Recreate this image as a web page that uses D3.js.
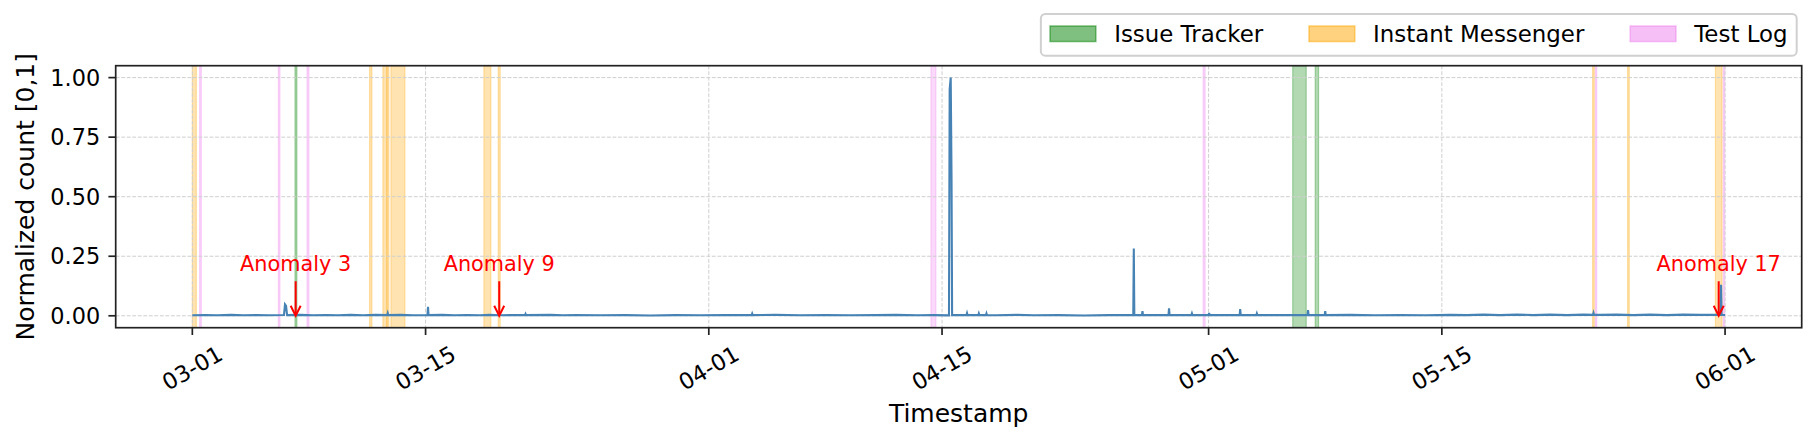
<!DOCTYPE html>
<html><head><meta charset="utf-8">
<script src="https://cdn.jsdelivr.net/npm/d3@7"></script>
<style>
body{margin:0;background:#fff}
svg text{font-family:"DejaVu Sans",sans-serif}
</style>
</head><body>
<svg id="chart" width="1817" height="443"></svg>
<script>
// ---------------- DATA ----------------
const YEAR = "2023";
const seriesTime = [
"03-01 00:00","03-01 18:00","03-02 12:00","03-03 08:00","03-04 02:00","03-04 20:00","03-05 14:00",
"03-06 12:00","03-06 13:30","03-06 15:00","03-06 16:30","03-07 12:00","03-08 06:00","03-09 00:00",
"03-09 18:00","03-10 12:00","03-11 06:00","03-12 00:00","03-12 16:45","03-12 17:30","03-12 18:15",
"03-13 12:00","03-14 06:00","03-15 02:45","03-15 03:30","03-15 04:15","03-16 00:00","03-16 18:00",
"03-17 12:00","03-18 06:00","03-18 20:00","03-19 12:00","03-20 06:00","03-20 23:15","03-21 00:00",
"03-21 00:45","03-22 12:00","03-23 06:00","03-24 00:00","03-25 12:00","03-27 00:00","03-28 12:00",
"03-30 00:00","03-31 12:00","04-02 00:00","04-03 13:45","04-03 14:30","04-03 15:15","04-05 00:00",
"04-06 12:00","04-08 00:00","04-09 12:00","04-11 00:00","04-12 06:00","04-13 12:00","04-14 12:00",
"04-15 10:00","04-15 11:00","04-15 12:30","04-15 13:40","04-15 14:30","04-16 00:00","04-16 11:15",
"04-16 12:00","04-16 12:45","04-17 04:15","04-17 05:00","04-17 05:45","04-17 15:15","04-17 16:00",
"04-17 16:45","04-18 06:00","04-19 12:00","04-20 12:00","04-22 00:00","04-23 12:00","04-25 00:00",
"04-26 11:30","04-26 12:15","04-26 13:00","04-27 00:00","04-27 00:45","04-27 01:30","04-28 14:15",
"04-28 15:00","04-28 15:45","04-29 23:15","04-30 00:00","04-30 00:45","05-01 00:00","05-01 00:45",
"05-01 01:30","05-02 20:45","05-02 21:30","05-02 22:15","05-03 20:45","05-03 21:30","05-03 22:15",
"05-05 12:00","05-06 22:30","05-06 23:15","05-07 00:00","05-07 23:15","05-08 00:00","05-08 00:45",
"05-09 12:00","05-11 00:00","05-12 12:00","05-14 00:00","05-15 12:00","05-16 12:00","05-17 12:00",
"05-18 12:00","05-19 12:00","05-20 12:00","05-21 12:00","05-22 12:00","05-23 12:00","05-24 01:45",
"05-24 02:30","05-24 03:15","05-24 12:00","05-25 12:00","05-26 12:00","05-27 12:00","05-28 12:00",
"05-29 12:00","05-30 12:00","05-31 17:30","05-31 18:15","05-31 19:00","06-01 00:00"
];
const seriesValue = [
0.002,0.003,0.002,0.004,0.002,0.003,0.002,
0.003,0.048,0.042,0.003,0.004,0.002,0.003,
0.002,0.004,0.002,0.004,0.003,0.011,0.003,
0.004,0.002,0.003,0.038,0.003,0.004,0.002,
0.003,0.002,0.004,0.002,0.003,0.003,0.008,
0.003,0.004,0.002,0.003,0.002,0.003,0.001,
0.003,0.002,0.003,0.003,0.009,0.003,0.004,
0.002,0.003,0.002,0.003,0.004,0.002,0.003,
0.002,0.951,1.000,0.584,0.003,0.003,0.003,
0.011,0.003,0.003,0.010,0.003,0.003,0.010,
0.003,0.002,0.004,0.002,0.003,0.001,0.003,
0.003,0.283,0.003,0.003,0.020,0.003,0.003,
0.031,0.003,0.003,0.010,0.003,0.003,0.012,
0.003,0.003,0.028,0.003,0.003,0.010,0.003,
0.003,0.003,0.024,0.003,0.003,0.020,0.003,
0.004,0.002,0.003,0.002,0.004,0.003,0.005,
0.003,0.005,0.003,0.005,0.003,0.005,0.004,
0.012,0.004,0.004,0.005,0.003,0.005,0.003,
0.005,0.004,0.004,0.130,0.004,0.003
];

const categories = ["Issue Tracker", "Instant Messenger", "Test Log"];
const issueTrackerSpans = [
["03-07 03:50","03-07 06:40"],["05-06 01:10","05-06 20:40"],["05-07 09:35","05-07 14:25"]
];
const instantMessengerSpans = [
["03-01 00:00","03-01 05:45"],["03-11 15:20","03-11 18:40"],["03-12 10:30","03-12 16:20"],
["03-12 16:20","03-12 19:10"],["03-12 22:05","03-13 18:15"],["03-18 12:00","03-18 22:05"],
["03-19 08:40","03-19 11:30"],["05-24 01:10","05-24 03:35"],["05-26 03:35","05-26 06:00"],
["05-31 10:05","05-31 19:40"]
];
const testLogSpans = [
["03-01 10:30","03-01 13:00"],["03-06 03:50","03-06 06:15"],["03-07 21:10","03-08 00:00"],
["04-14 08:00","04-14 15:10"],["04-30 16:05","04-30 19:00"],["05-24 05:15","05-24 07:10"],
["05-31 21:35","05-31 23:30"]
];
const anomalyLabels = ["Anomaly 3", "Anomaly 9", "Anomaly 17"];
const anomalyTimes = ["03-07 04:50", "03-19 10:05", "05-31 14:50"];
const xTickLabels = ["03-01","03-15","04-01","04-15","05-01","05-15","06-01"];
const yTickValues = [0, 0.25, 0.5, 0.75, 1.0];
const xAxisTitle = "Timestamp";
const yAxisTitle = "Normalized count [0,1]";

// ---------------- CHART ----------------
const parse = d3.timeParse("%Y-%m-%d %H:%M");
const pt = s => parse(YEAR + "-" + s);
const pd = s => d3.timeParse("%Y-%m-%d")(YEAR + "-" + s);

const M = {left: 115.7, right: 1801.7, top: 65.7, bottom: 327.7};
const svg = d3.select("#chart");

const series = seriesTime.map((t, i) => ({t: pt(t), v: seriesValue[i]}));
const tExt = d3.extent(series, d => d.t);
const tPad = (tExt[1] - tExt[0]) * 0.05;
const x = d3.scaleTime().domain([new Date(+tExt[0] - tPad), new Date(+tExt[1] + tPad)]).range([M.left, M.right]);
const vExt = [0, d3.max(series, d => d.v)];
const vPad = (vExt[1] - vExt[0]) * 0.05;
const y = d3.scaleLinear().domain([vExt[0] - vPad, vExt[1] + vPad]).range([M.bottom, M.top]);

const spanColors = {"Issue Tracker": "#008000", "Instant Messenger": "#FFA500", "Test Log": "#EE82EE"};
const spanSets = [
  {name: "Issue Tracker", spans: issueTrackerSpans},
  {name: "Instant Messenger", spans: instantMessengerSpans},
  {name: "Test Log", spans: testLogSpans}
];

svg.append("defs").append("clipPath").attr("id", "clip")
  .append("rect").attr("x", M.left).attr("y", M.top).attr("width", M.right - M.left).attr("height", M.bottom - M.top);
const plot = svg.append("g").attr("clip-path", "url(#clip)");

// spans
spanSets.forEach(set => {
  plot.append("g").selectAll("rect").data(set.spans).join("rect")
    .attr("x", d => x(pt(d[0])))
    .attr("width", d => Math.max(0.01, x(pt(d[1])) - x(pt(d[0]))))
    .attr("y", M.top).attr("height", M.bottom - M.top)
    .attr("fill", spanColors[set.name]).attr("fill-opacity", 0.3)
    .attr("stroke", spanColors[set.name]).attr("stroke-opacity", 0.3).attr("stroke-width", 1.2);
});

// grid
const xTickDates = xTickLabels.map(pd);
const grid = plot.append("g").attr("stroke", "#cfcfcf").attr("stroke-width", 1).attr("stroke-dasharray", "3.85,1.67");
grid.selectAll(".gx").data(xTickDates).join("line")
  .attr("x1", d => x(d)).attr("x2", d => x(d)).attr("y1", M.top).attr("y2", M.bottom);
grid.selectAll(".gy").data(yTickValues).join("line")
  .attr("y1", d => y(d)).attr("y2", d => y(d)).attr("x1", M.left).attr("x2", M.right);

// series line
plot.append("path").datum(series)
  .attr("fill", "none").attr("stroke", "#4682b4").attr("stroke-width", 2.1).attr("stroke-linejoin", "miter")
  .attr("d", d3.line().x(d => x(d.t)).y(d => y(d.v)));

// anomaly annotations
const ann = svg.append("g");
anomalyTimes.forEach((t, i) => {
  const ax = x(pt(t));
  const tip = y(0), tail = y(0.145);
  ann.append("line").attr("x1", ax).attr("x2", ax).attr("y1", tail).attr("y2", tip - 1)
    .attr("stroke", "red").attr("stroke-width", 2);
  ann.append("path").attr("d", `M${ax - 5},${tip - 10}L${ax},${tip}L${ax + 5},${tip - 10}`)
    .attr("fill", "none").attr("stroke", "red").attr("stroke-width", 2).attr("stroke-linejoin", "miter");
  ann.append("text").attr("x", ax).attr("y", y(0.188)).attr("text-anchor", "middle")
    .attr("font-size", 20.8).attr("fill", "red").text(anomalyLabels[i]);
});

// axes frame
const axisColor = "#222";
svg.append("rect").attr("x", M.left).attr("y", M.top).attr("width", M.right - M.left).attr("height", M.bottom - M.top)
  .attr("fill", "none").attr("stroke", axisColor).attr("stroke-width", 1.7);

// y ticks
const tickFs = 22.4;
const yt = svg.append("g");
yTickValues.forEach(v => {
  yt.append("line").attr("x1", M.left - 7.3).attr("x2", M.left).attr("y1", y(v)).attr("y2", y(v))
    .attr("stroke", axisColor).attr("stroke-width", 1.7);
  yt.append("text").attr("x", M.left - 15.5).attr("y", y(v)).attr("dy", "0.36em")
    .attr("text-anchor", "end").attr("font-size", tickFs).attr("fill", "#000").text(d3.format(".2f")(v));
});

// x ticks
const xt = svg.append("g");
xTickDates.forEach((d, i) => {
  const tx = x(d);
  xt.append("line").attr("x1", tx).attr("x2", tx).attr("y1", M.bottom).attr("y2", M.bottom + 7.3)
    .attr("stroke", axisColor).attr("stroke-width", 1.7);
  const cy = 368;
  xt.append("text").attr("x", tx).attr("y", cy).attr("dy", "0.35em")
    .attr("text-anchor", "middle").attr("font-size", tickFs).attr("fill", "#000")
    .attr("transform", `rotate(-30,${tx},${cy})`).text(xTickLabels[i]);
});

// axis titles
svg.append("text").attr("x", (M.left + M.right) / 2).attr("y", 422).attr("text-anchor", "middle")
  .attr("font-size", 25).attr("fill", "#000").text(xAxisTitle);
svg.append("text").attr("transform", `translate(33.5,${(M.top + M.bottom) / 2}) rotate(-90)`)
  .attr("text-anchor", "middle").attr("font-size", 25).attr("fill", "#000").text(yAxisTitle);

// legend
const lfs = 22.9, handleLen = 2 * lfs, handleH = 0.7 * lfs, textPad = 0.8 * lfs, colSp = 2 * lfs, bPad = 0.4 * lfs;
const leg = svg.append("g");
const legBox = leg.append("rect");
let cx = 0;
categories.forEach((c, i) => {
  const g = leg.append("g");
  g.append("rect").attr("x", cx).attr("y", 26).attr("width", handleLen).attr("height", handleH - 0.5)
    .attr("fill", spanColors[c]).attr("fill-opacity", 0.5)
    .attr("stroke", spanColors[c]).attr("stroke-opacity", 0.5).attr("stroke-width", 1.5);
  const t = g.append("text").attr("x", cx + handleLen + textPad).attr("y", 42)
    .attr("font-size", lfs).attr("fill", "#000").text(c);
  cx += handleLen + textPad + t.node().getComputedTextLength() + (i < categories.length - 1 ? colSp : 0);
});
const boxRight = 1796.7;
const boxW = cx + 2 * bPad;
const boxLeft = boxRight - boxW;
leg.selectAll("g").attr("transform", `translate(${boxLeft + bPad},0)`);
legBox.attr("x", boxLeft).attr("y", 14).attr("width", boxW).attr("height", 41.7).attr("rx", 4.5)
  .attr("fill", "#fff").attr("fill-opacity", 0.8).attr("stroke", "#d0d0d0").attr("stroke-width", 2);
</script>
</body></html>
